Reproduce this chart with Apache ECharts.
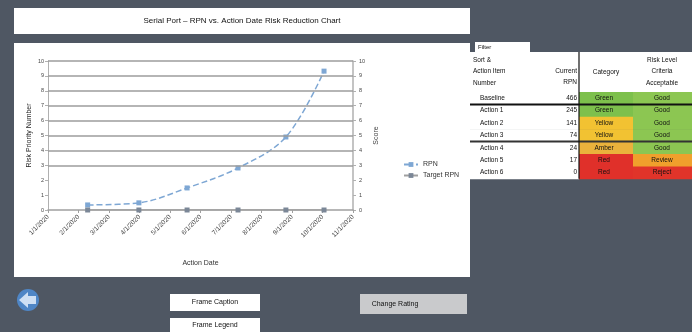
<!DOCTYPE html>
<html><head><meta charset="utf-8">
<script src="https://cdn.jsdelivr.net/npm/echarts@6/dist/echarts.min.js"></script>
<style>html,body{margin:0;padding:0;background:#4f5763;}#c{width:692px;height:332px;}</style>
</head><body><div id="c"></div>
<script>
// ---- data ----
const chartTitle = 'Serial Port – RPN vs. Action Date Risk Reduction Chart';
const xTickLabels = ['1/1/2020','2/1/2020','3/1/2020','4/1/2020','5/1/2020','6/1/2020','7/1/2020','8/1/2020','9/1/2020','10/1/2020','11/1/2020'];
const actionX = [1.3, 2.98, 4.56, 6.23, 7.8, 9.05];
const rpnValues = [17, 24, 74, 141, 245, 466];
const targetValues = [0, 0, 0, 0, 0, 0];
const gridValues = [150, 200, 250, 300, 350, 400, 450, 500];
const seriesNames = ['RPN', 'Target RPN'];
const tableHeadLeft = ['Sort &', 'Action Item', 'Number'];
const tableHeadVal = ['Current', 'RPN'];
const tableHeadCat = ['Category'];
const tableHeadCrit = ['Risk Level', 'Criteria', 'Acceptable'];
const rowLabels = ['Baseline', 'Action 1', 'Action 2', 'Action 3', 'Action 4', 'Action 5', 'Action 6'];
const rowValues = ['466', '245', '141', '74', '24', '17', '0'];
const rowCategory = ['Green', 'Green', 'Yellow', 'Yellow', 'Amber', 'Red', 'Red'];
const rowCriteria = ['Good', 'Good', 'Good', 'Good', 'Good', 'Review', 'Reject'];
const buttonLabels = ['Frame Caption', 'Frame Legend', 'Change Rating'];
const filterLabel = 'Filter';

// ---- styles ----
const catColor = {Green:'#7dc04c', Yellow:'#f2c232', Amber:'#eab23c', Red:'#e0302a'};
const critColor = {Good:'#8cc652', Review:'#f0a02c', Reject:'#e0342a'};
const FONT = 'Liberation Sans';

const g = [];
function rect(x,y,w,h,fill,z){g.push({type:'rect',z:z||-10,shape:{x,y,width:w,height:h},style:{fill}});}
function text(x,y,t,opts){g.push(Object.assign({type:'text',z:5,x,y,style:Object.assign({text:t,fill:'#111',font:'7px '+FONT,textVerticalAlign:'middle'},opts||{})}));}
function line(x1,y1,x2,y2,stroke,w){g.push({type:'line',z:4,shape:{x1,y1,x2,y2},style:{stroke,lineWidth:w}});}

// title + chart boxes
rect(14,8,456,26,'#ffffff');
text(242,21,chartTitle,{textAlign:'center',font:'8px '+FONT});
rect(14,43,456,234,'#ffffff');

// right table
rect(475,42,55,10,'#ffffff');
text(478,47,filterLabel,{font:'6px '+FONT});
rect(470,52,222,40,'#ffffff');
tableHeadLeft.forEach((t,i)=>text(473,60+i*11.5,t,{font:'6.5px '+FONT}));
tableHeadVal.forEach((t,i)=>text(577,71+i*11.5,t,{textAlign:'right',font:'6.5px '+FONT}));
tableHeadCat.forEach((t,i)=>text(606,72,t,{textAlign:'center',font:'6.5px '+FONT}));
tableHeadCrit.forEach((t,i)=>text(662,60+i*11.5,t,{textAlign:'center',font:'6.5px '+FONT}));
const r0 = 92, rh = 12.4;
rowLabels.forEach((lab,i)=>{
  const y = r0 + i*rh;
  rect(470,y,109,rh+0.5,'#ffffff');
  rect(579,y,54,rh+0.5,catColor[rowCategory[i]]);
  rect(633,y,59,rh+0.5,critColor[rowCriteria[i]]);
  text(480,y+rh/2,lab,{font:'6.5px '+FONT});
  text(577,y+rh/2,rowValues[i],{textAlign:'right',font:'6.5px '+FONT});
  text(604,y+rh/2,rowCategory[i],{textAlign:'center',font:'6.5px '+FONT});
  text(662,y+rh/2,rowCriteria[i],{textAlign:'center',font:'6.5px '+FONT});
});
line(470,r0+rh,692,r0+rh,'#111',2);
line(470,r0+4*rh,692,r0+4*rh,'#333',2);
line(579,52,579,r0+7*rh,'#111',1.2);

// bottom controls
g.push({type:'circle',z:3,shape:{cx:28,cy:300,r:11},style:{fill:'#4f86c6'}});
g.push({type:'polygon',z:4,shape:{points:[[19,300],[28,292],[28,296],[36,296],[36,304],[28,304],[28,308]]},style:{fill:'#cfe0f4'}});
rect(170,294,90,17,'#ffffff',3);
text(215,302.5,buttonLabels[0],{textAlign:'center',font:'7px '+FONT});
rect(170,318,90,14,'#ffffff',3);
text(215,325,buttonLabels[1],{textAlign:'center',font:'7px '+FONT});
rect(360,294,107,20,'#c9cacc',3);
text(395,304,buttonLabels[2],{textAlign:'center',font:'7px '+FONT});

const chart = echarts.init(document.getElementById('c'));
chart.setOption({
  animation:false,
  backgroundColor:'#4f5763',
  textStyle:{fontFamily:FONT},
  graphic:g,
  legend:{orient:'vertical',left:398,top:156,itemWidth:14,itemHeight:6,itemGap:4,
    textStyle:{fontSize:7,color:'#333'},data:seriesNames},
  grid:{left:48,right:339,top:61,bottom:122},
  xAxis:{type:'value',min:0,max:10,interval:1,name:'Action Date',nameLocation:'middle',nameGap:50,
    nameTextStyle:{fontSize:7,color:'#333'},
    axisLine:{lineStyle:{color:'#a0a0a0',width:1.5}},axisTick:{show:true,length:3,lineStyle:{color:'#a0a0a0'}},
    splitLine:{show:false},
    axisLabel:{rotate:45,fontSize:6.5,color:'#444',margin:6,formatter:v=>xTickLabels[Math.round(v)]}},
  yAxis:[
    {type:'value',min:0,max:500,interval:50,name:'Risk Priority Number',nameLocation:'middle',nameGap:15,
      nameTextStyle:{fontSize:7,color:'#222'},
      axisLine:{show:true,lineStyle:{color:'#b0b0b0'}},axisTick:{show:true,length:3,lineStyle:{color:'#b0b0b0'}},
      splitLine:{show:false},axisLabel:{fontSize:5.5,color:'#444',margin:4,formatter:v=>String(v/50)}},
    {type:'value',min:0,max:10,interval:1,name:'Score',nameLocation:'middle',nameGap:20,
      nameTextStyle:{fontSize:7,color:'#444'},
      axisLine:{show:true,lineStyle:{color:'#b0b0b0',width:1.5}},axisTick:{show:true,length:3,lineStyle:{color:'#b0b0b0'}},
      splitLine:{show:false},axisLabel:{fontSize:5.5,color:'#444',margin:6}}
  ],
  series:[
    {name:seriesNames[0],type:'line',smooth:0.35,symbol:'rect',symbolSize:5,z:3,
      itemStyle:{color:'#7ea7d4'},lineStyle:{color:'#7ea7d4',width:1.5,type:'dashed'},
      data:actionX.map((x,i)=>[x,rpnValues[i]]),
      markLine:{silent:true,symbol:'none',label:{show:false},lineStyle:{color:'#9c9c9c',width:1.5,type:'solid'},
        data:gridValues.map(v=>({yAxis:v}))}},
    {name:seriesNames[1],type:'line',symbol:'rect',symbolSize:5,z:3,
      itemStyle:{color:'#7b8797'},lineStyle:{color:'#a0a0a0',width:1.5},
      data:actionX.map((x,i)=>[x,targetValues[i]])}
  ]
});
</script></body></html>
